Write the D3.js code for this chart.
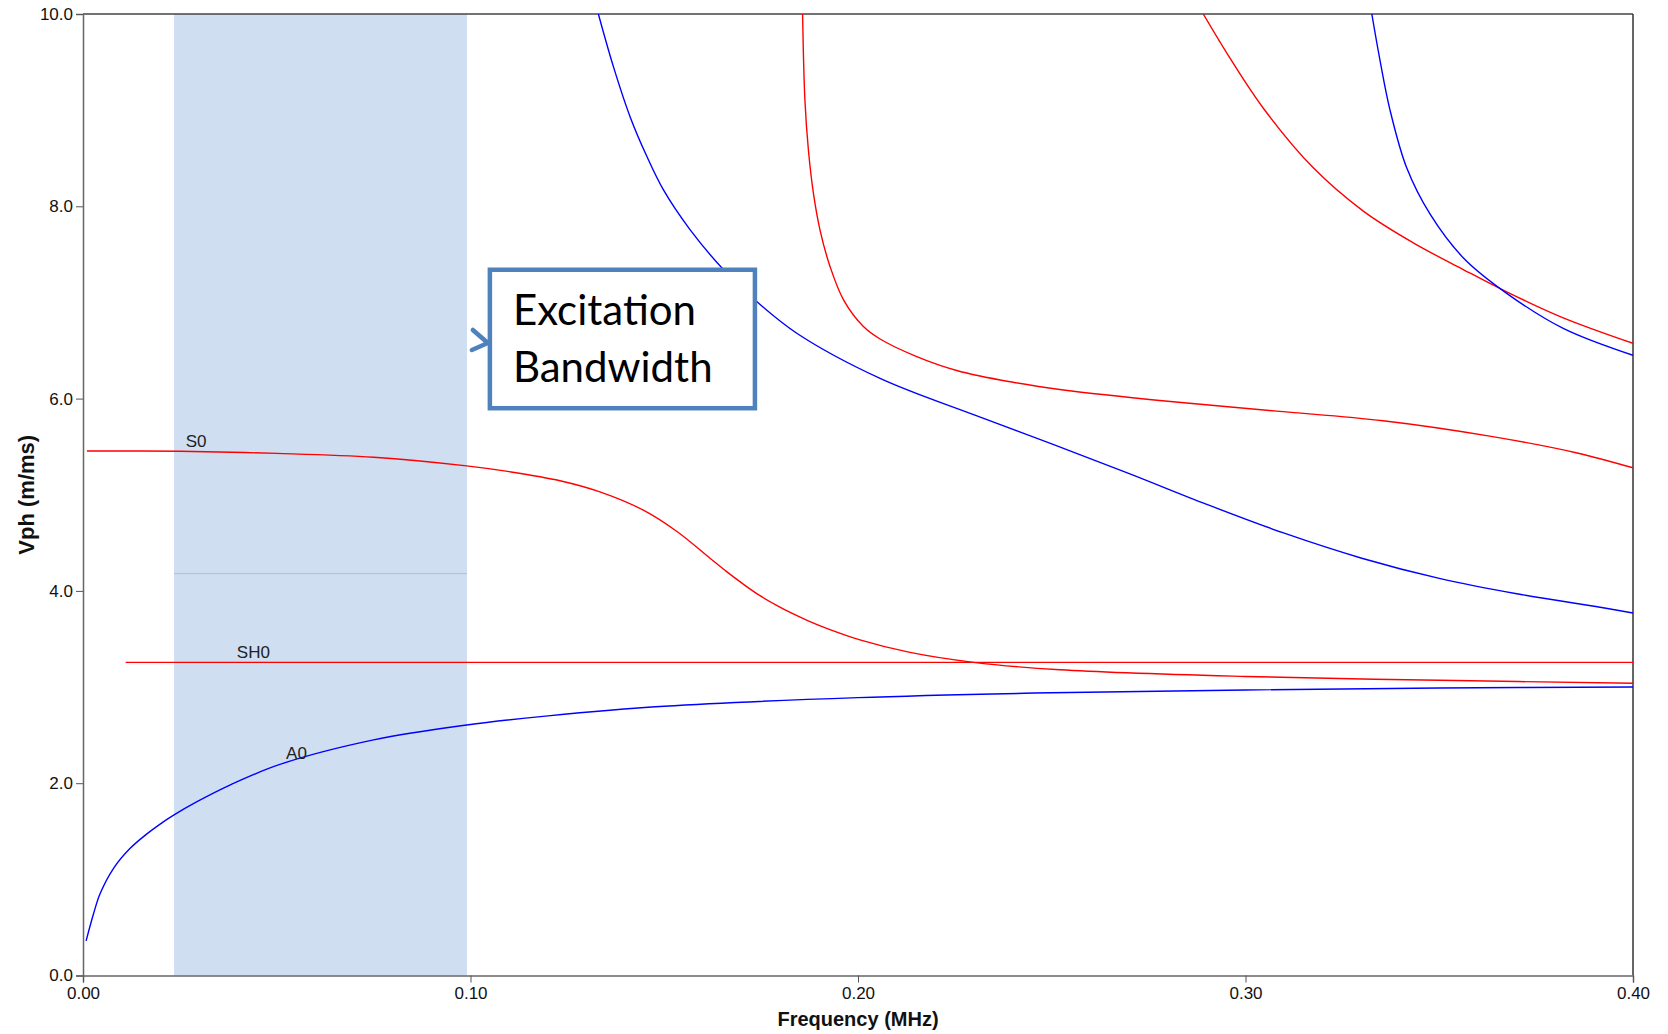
<!DOCTYPE html>
<html>
<head>
<meta charset="utf-8">
<script src="https://cdn.jsdelivr.net/npm/d3@7"></script>
<style>
  body { margin: 0; background: #fff; }
  svg { display: block; }
</style>
</head>
<body>
<div id="chart"></div>
<script>
// Lamb wave dispersion curves: phase velocity vs frequency
const freqTicks = [0, 0.1, 0.2, 0.3, 0.4];
const vphTicks = [0, 2, 4, 6, 8, 10];

// [frequency MHz, Vph m/ms]
const a0 = [[0.0008, 0.36], [0.0027, 0.64], [0.0044, 0.85], [0.0078, 1.11], [0.0121, 1.32],
  [0.0164, 1.47], [0.0199, 1.575], [0.0235, 1.67], [0.0293, 1.805], [0.0379, 1.98],
  [0.0508, 2.195], [0.075, 2.45], [0.099, 2.605], [0.12, 2.7], [0.15, 2.8],
  [0.2, 2.89], [0.25, 2.94], [0.3, 2.97], [0.35, 2.99], [0.4, 3.0]];
const s0 = [[0.001, 5.455], [0.025, 5.452], [0.05, 5.43], [0.075, 5.39], [0.099, 5.30],
  [0.11, 5.24], [0.1231, 5.146], [0.1334, 5.03], [0.1446, 4.84], [0.1532, 4.62],
  [0.1618, 4.34], [0.1661, 4.20], [0.1704, 4.07], [0.1747, 3.95], [0.179, 3.85],
  [0.1833, 3.76], [0.1876, 3.68], [0.1919, 3.61], [0.2005, 3.49], [0.2134, 3.36],
  [0.2298, 3.257], [0.2521, 3.18], [0.3, 3.11], [0.35, 3.07], [0.4, 3.04]];
const sh0 = [[0.011, 3.257], [0.4, 3.257]];
const a1 = [[0.133, 10], [0.1369, 9.45], [0.1412, 8.93], [0.1455, 8.52], [0.1498, 8.17],
  [0.1566, 7.76], [0.1652, 7.345], [0.173, 7.04], [0.1842, 6.68], [0.2057, 6.21],
  [0.23, 5.83], [0.25, 5.53], [0.27, 5.22], [0.29, 4.9], [0.31, 4.6], [0.33, 4.34],
  [0.35, 4.13], [0.37, 3.97], [0.39, 3.84], [0.4, 3.77]];
const s1 = [[0.1857, 10], [0.1863, 9.105], [0.1872, 8.585], [0.1885, 8.135], [0.1902, 7.753],
  [0.1928, 7.372], [0.1963, 7.025], [0.2014, 6.75], [0.2057, 6.62], [0.215, 6.44],
  [0.2257, 6.29], [0.24, 6.17], [0.253, 6.09], [0.2806, 5.97], [0.308, 5.87],
  [0.3355, 5.77], [0.363, 5.61], [0.385, 5.44], [0.4, 5.28]];
const s2 = [[0.2891, 10], [0.296, 9.54], [0.3046, 9.02], [0.3175, 8.40], [0.3304, 7.95],
  [0.3433, 7.62], [0.3563, 7.34], [0.3674, 7.11], [0.382, 6.84], [0.4, 6.575]];
const a2 = [[0.3326, 10], [0.3347, 9.52], [0.3373, 9.0], [0.3416, 8.40], [0.3476, 7.92],
  [0.3563, 7.46], [0.3674, 7.095], [0.382, 6.73], [0.4, 6.45]];

const modeLabels = [
  { name: 'S0', f: 0.0265, v: 5.5 },
  { name: 'SH0', f: 0.0397, v: 3.3 },
  { name: 'A0', f: 0.0524, v: 2.25 }
];
const band = [0.0235, 0.0991];
const bandLevel = 4.18;
const calloutLines = ['Excitation', 'Bandwidth'];
const calloutBox = { f0: 0.105, f1: 0.1734, v0: 7.34, v1: 5.9 };

const width = 1668, height = 1034;
const margin = { top: 14, right: 35, bottom: 58.5, left: 83 };

const svg = d3.select('#chart').append('svg')
  .attr('width', width)
  .attr('height', height);

const x = d3.scaleLinear().domain([0, 0.4]).range([margin.left, width - margin.right]);
const y = d3.scaleLinear().domain([0, 10]).range([height - margin.bottom, margin.top]);

svg.append('clipPath').attr('id', 'plot-clip')
  .append('rect')
  .attr('x', x(0)).attr('y', y(10))
  .attr('width', x(0.4) - x(0)).attr('height', y(0) - y(10));

// shaded excitation band
svg.append('rect')
  .attr('x', x(band[0]))
  .attr('y', y(10))
  .attr('width', x(band[1]) - x(band[0]))
  .attr('height', y(0) - y(10))
  .attr('fill', '#cfdef1');

svg.append('line')
  .attr('x1', x(band[0])).attr('x2', x(band[1]))
  .attr('y1', y(bandLevel)).attr('y2', y(bandLevel))
  .attr('stroke', '#a8c0e2')
  .attr('stroke-width', 1);

// frame
svg.append('line')
  .attr('x1', x(0)).attr('x2', x(0.4))
  .attr('y1', y(10)).attr('y2', y(10))
  .attr('stroke', '#444').attr('stroke-width', 1.5);
svg.append('line')
  .attr('x1', x(0.4)).attr('x2', x(0.4))
  .attr('y1', y(10)).attr('y2', y(0))
  .attr('stroke', '#333').attr('stroke-width', 1.5);

const line = d3.line()
  .x(d => x(d[0]))
  .y(d => y(d[1]))
  .curve(d3.curveCatmullRom.alpha(0.5));

const curves = [
  { data: a0, color: '#0000ff' },
  { data: s0, color: '#ff0000' },
  { data: sh0, color: '#ff0000' },
  { data: a1, color: '#0000ff' },
  { data: s1, color: '#ff0000' },
  { data: s2, color: '#ff0000' },
  { data: a2, color: '#0000ff' }
];

svg.append('g')
  .attr('clip-path', 'url(#plot-clip)')
  .selectAll('path')
  .data(curves)
  .join('path')
  .attr('fill', 'none')
  .attr('stroke', d => d.color)
  .attr('stroke-width', 1.4)
  .attr('d', d => line(d.data));

// axes
const xAxis = svg.append('g')
  .attr('transform', 'translate(0,' + y(0) + ')')
  .call(d3.axisBottom(x).tickValues(freqTicks).tickFormat(d3.format('.2f')).tickSize(7).tickPadding(4));
const yAxis = svg.append('g')
  .attr('transform', 'translate(' + x(0) + ',0)')
  .call(d3.axisLeft(y).tickValues(vphTicks).tickFormat(d3.format('.1f')).tickSize(7).tickPadding(3));

[xAxis, yAxis].forEach(g => {
  g.select('.domain').attr('stroke', '#666').attr('stroke-width', 1.5);
  g.selectAll('.tick line').attr('stroke', '#555');
  g.selectAll('.tick text')
    .attr('fill', '#111')
    .style('font-family', '"Liberation Sans", Arial, sans-serif')
    .style('font-size', '17px');
});

svg.append('text')
  .attr('x', (x(0) + x(0.4)) / 2)
  .attr('y', 1026)
  .attr('text-anchor', 'middle')
  .style('font-family', '"Liberation Sans", Arial, sans-serif')
  .style('font-size', '20px')
  .style('font-weight', 'bold')
  .attr('fill', '#111')
  .text('Frequency (MHz)');

svg.append('text')
  .attr('transform', 'translate(34,' + (y(0) + y(10)) / 2 + ') rotate(-90)')
  .attr('text-anchor', 'middle')
  .style('font-family', '"Liberation Sans", Arial, sans-serif')
  .style('font-size', '22px')
  .style('font-weight', 'bold')
  .attr('fill', '#111')
  .text('Vph (m/ms)');

// mode labels
svg.append('g')
  .selectAll('text')
  .data(modeLabels)
  .join('text')
  .attr('x', d => x(d.f))
  .attr('y', d => y(d.v))
  .style('font-family', '"Liberation Sans", Arial, sans-serif')
  .style('font-size', '17px')
  .attr('fill', '#222')
  .text(d => d.name);

// callout
const callout = svg.append('g');
callout.append('rect')
  .attr('x', x(calloutBox.f0))
  .attr('y', y(calloutBox.v0))
  .attr('width', x(calloutBox.f1) - x(calloutBox.f0))
  .attr('height', y(calloutBox.v1) - y(calloutBox.v0))
  .attr('fill', '#fff')
  .attr('stroke', '#4f81bd')
  .attr('stroke-width', 4.5);
const cx = x(calloutBox.f0), cy = (y(calloutBox.v0) + y(calloutBox.v1)) / 2;
callout.append('path')
  .attr('d', `M${cx - 17},${cy - 9}L${cx - 2},${cy + 4}L${cx - 18},${cy + 11}`)
  .attr('fill', 'none')
  .attr('stroke', '#4f81bd')
  .attr('stroke-width', 4.5)
  .attr('stroke-linecap', 'round')
  .attr('stroke-linejoin', 'round');
callout.selectAll('text')
  .data(calloutLines)
  .join('text')
  .attr('x', cx + 23)
  .attr('y', (d, i) => y(calloutBox.v0) + 55 + i * 57)
  .style('font-family', 'Lato, "Open Sans", sans-serif')
  .style('font-size', '42px')
  .attr('fill', '#000')
  .text(d => d);
</script>
</body>
</html>
